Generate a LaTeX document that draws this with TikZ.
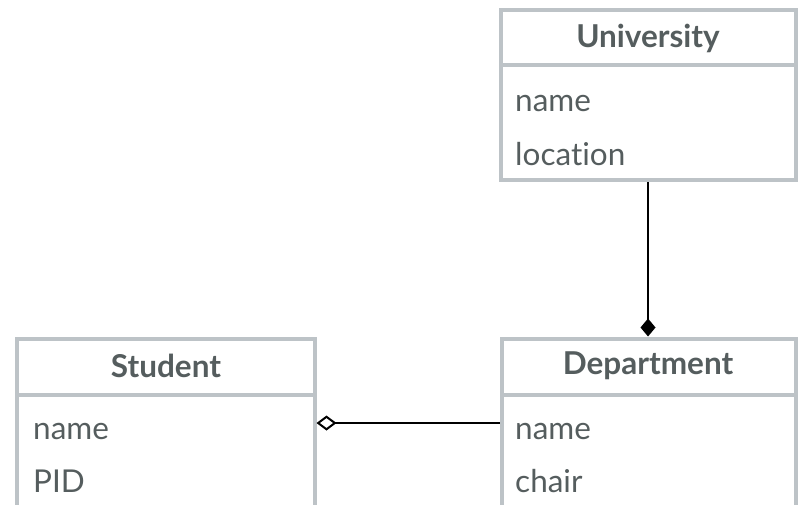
\documentclass[tikz,border=0pt]{standalone}
\usepackage{fontspec}
\setmainfont{Lato}[Ligatures={NoCommon}]
\usetikzlibrary{arrows.meta}
\definecolor{boxline}{HTML}{BDC3C7}
\definecolor{ink}{HTML}{555D5E}
\begin{document}
\begin{tikzpicture}[x=1pt,y=-1pt,
  classbox/.style={draw=boxline,line width=4pt,rectangle,anchor=north west,inner sep=0pt},
  divider/.style={draw=boxline,line width=4pt},
  classname/.style={text=ink,font=\fontsize{31.5}{36}\selectfont\bfseries,inner sep=0pt},
  attr/.style={text=ink,font=\fontsize{31.5}{36}\selectfont,anchor=base west,inner sep=0pt},
  link/.style={draw=black,line width=2pt}]
\clip (0,0) rectangle (802,505);

% class boxes (anchored at the outer corner of the 4pt border)
\node[classbox,minimum width=295pt,minimum height=170pt] (univ) at (498.5,8.3) {};
\node[classbox,minimum width=297.5pt,minimum height=220pt] (stud) at (15,336.5) {};
\node[classbox,minimum width=294pt,minimum height=220pt] (dept) at (499.5,336.5) {};

% header dividers
\draw[divider] (500.5,65.5) -- (795.5,65.5);
\draw[divider] (17,394.5) -- (314.5,394.5);
\draw[divider] (501.5,394.5) -- (795.5,394.5);

% class names
\node[classname] (univname) at (648,38) {University};
\node[classname] (studname) at (166,366) {Student};
\node[classname] (deptname) at (648,366) {Department};

% attributes
\node[attr] (u1) at (515,112) {name};
\node[attr] (u2) at (515,166) {location};
\node[attr] (s1) at (33,439) {name};
\node[attr] (s2) at (33,492) {PID};
\node[attr] (d1) at (515,439) {name};
\node[attr] (d2) at (515,492) {chair};

% associations
\coordinate (aggrow) at (0,423);
\coordinate (compcol) at (648,0);
\draw[link,-{Diamond[open,length=20pt,width=15pt]}] (dept.west |- aggrow) -- (stud.east |- aggrow);
\draw[link,-{Diamond[length=18pt,width=15pt]}] (univ.south -| compcol) -- (dept.north -| compcol);
\end{tikzpicture}
\end{document}
